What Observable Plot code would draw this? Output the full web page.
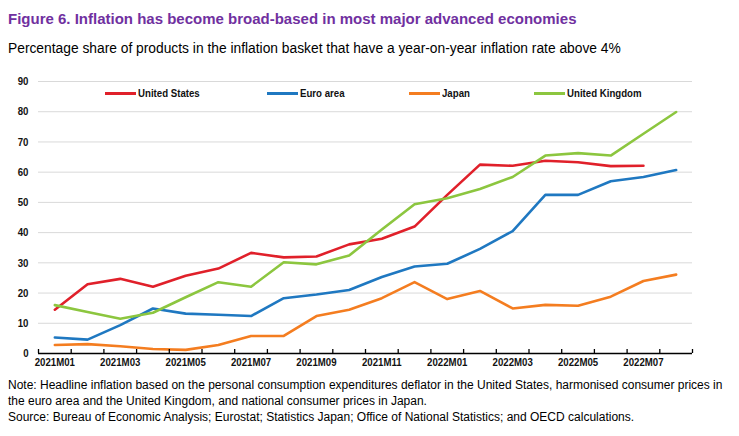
<!DOCTYPE html>
<html>
<head>
<meta charset="utf-8">
<script src="https://cdn.jsdelivr.net/npm/d3@7"></script>
<script src="https://cdn.jsdelivr.net/npm/@observablehq/plot@0.6"></script>
<style>
  html, body { margin: 0; padding: 0; background: #fff; }
  #wrap { position: relative; width: 739px; height: 436px; overflow: hidden; font-family: "Liberation Sans", Arial, sans-serif; }
  #title { position: absolute; left: 8px; top: 10px; font-size: 15px; line-height: 18px; font-weight: bold; color: #7030a0; white-space: nowrap; }
  #subtitle { position: absolute; left: 8px; top: 40px; font-size: 13.8px; line-height: 17px; color: #000; white-space: nowrap; }
  #chart { position: absolute; left: 0; top: 62px; }
  #legend { position: absolute; left: 0; top: 86px; width: 739px; height: 16px; font-family: "Liberation Sans", Arial, sans-serif; font-weight: bold; font-size: 11.5px; line-height: 15px; color: #111; }
  .item { position: absolute; top: 0; display: flex; align-items: center; white-space: nowrap; }
  .sw { width: 31px; height: 3px; margin-right: 2px; }
  .tx { display: inline-block; transform: scaleX(0.84); transform-origin: left center; }
  #notes { position: absolute; left: 8px; top: 377px; font-size: 12px; line-height: 16px; color: #000; white-space: nowrap; }
</style>
</head>
<body>
<div id="wrap">
  <div id="title">Figure 6. Inflation has become broad-based in most major advanced economies</div>
  <div id="subtitle">Percentage share of products in the inflation basket that have a year-on-year inflation rate above 4%</div>
  <div id="chart"></div>
  <div id="legend"></div>
  <div id="notes">Note: Headline inflation based on the personal consumption expenditures deflator in the United States, harmonised consumer prices in<br>the euro area and the United Kingdom, and national consumer prices in Japan.<br>Source: Bureau of Economic Analysis; Eurostat; Statistics Japan; Office of National Statistics; and OECD calculations.</div>
</div>
<script>
const months = ["2021M01","2021M02","2021M03","2021M04","2021M05","2021M06","2021M07","2021M08","2021M09","2021M10","2021M11","2021M12",
                "2022M01","2022M02","2022M03","2022M04","2022M05","2022M06","2022M07","2022M08"];
const seriesNames = ["United States", "Euro area", "Japan", "United Kingdom"];
const seriesColors = ["#e0202a", "#1f78c1", "#f47d20", "#8cc63f"];
const unitedStates = [14.5, 22.9, 24.7, 22.1, 25.7, 28.1, 33.3, 31.8, 32.1, 36.1, 38.0, 42.0, 52.5, 62.5, 62.1, 63.8, 63.3, 62.0, 62.1, null];
const euroArea     = [5.3, 4.6, 9.4, 14.9, 13.2, 12.8, 12.4, 18.3, 19.5, 21.0, 25.3, 28.8, 29.7, 34.6, 40.5, 52.5, 52.5, 57.0, 58.4, 60.7];
const japan        = [2.8, 3.1, 2.4, 1.5, 1.2, 2.8, 5.8, 5.8, 12.4, 14.5, 18.3, 23.6, 18.0, 20.7, 14.9, 16.1, 15.8, 18.8, 24.0, 26.1];
const unitedKingdom= [16.0, 13.7, 11.5, 13.5, 18.6, 23.6, 22.1, 30.2, 29.5, 32.4, 41.0, 49.4, 51.4, 54.4, 58.4, 65.5, 66.3, 65.5, 72.7, 79.9];
const yTicks = [0, 10, 20, 30, 40, 50, 60, 70, 80, 90];

const allSeries = [unitedStates, euroArea, japan, unitedKingdom];
const rows = [];
allSeries.forEach((vals, s) => vals.forEach((v, i) => {
  if (v != null) rows.push({series: seriesNames[s], i, v});
}));
const boundaries = months.map((_, i) => i - 0.5).concat([months.length - 0.5]);
const labelTicks = months.map((_, i) => i).filter(i => i % 2 === 0);

const W = 739, H = 311, mT = 19, mB = 20, mL = 38, mR = 47;
const frameH = H - mT - mB;

const plot = Plot.plot({
  width: W, height: H,
  marginTop: mT, marginBottom: mB, marginLeft: mL, marginRight: mR,
  style: {fontFamily: "'Liberation Sans', Arial, sans-serif", fontWeight: "bold", fontSize: "11.5px", color: "#000", background: "#fff"},
  x: {type: "linear", domain: [-0.5, months.length - 0.5]},
  y: {domain: [0, 90]},
  color: {domain: seriesNames, range: seriesColors},
  marks: [
    Plot.gridY(yTicks.filter(t => t > 0), {stroke: "#d9d9d9", strokeOpacity: 1, strokeWidth: 1}),
    Plot.axisY(yTicks, {tickSize: 0, tickPadding: 10, label: null, fill: "#111"}),
    Plot.axisX(labelTicks, {tickSize: 0, tickPadding: 4, label: null, tickFormat: i => months[i], fill: "#111"}),
    Plot.line(rows, {x: "i", y: "v", z: "series", stroke: "series", strokeWidth: 2.6, strokeLinejoin: "round"}),
    Plot.ruleY([0], {stroke: "#000", strokeWidth: 1.3}),
    Plot.tickX(boundaries, {x: d => d, stroke: "#000", strokeWidth: 1.3, insetTop: frameH - 4})
  ]
});
// condense the bold tick labels to mimic a narrow typeface
plot.querySelectorAll('g[aria-label$="tick label"] text').forEach(t => {
  const tr = t.getAttribute("transform") || "";
  t.setAttribute("transform", tr + " scale(0.84,1)");
});
document.getElementById("chart").appendChild(plot);

const legendLeft = [105, 267, 409, 534];
const legend = document.getElementById("legend");
seriesNames.forEach((name, k) => {
  const it = document.createElement("div");
  it.className = "item";
  it.style.left = legendLeft[k] + "px";
  const sw = document.createElement("div");
  sw.className = "sw";
  sw.style.background = seriesColors[k];
  const tx = document.createElement("span");
  tx.className = "tx";
  tx.textContent = name;
  it.appendChild(sw); it.appendChild(tx);
  legend.appendChild(it);
});
</script>
</body>
</html>
